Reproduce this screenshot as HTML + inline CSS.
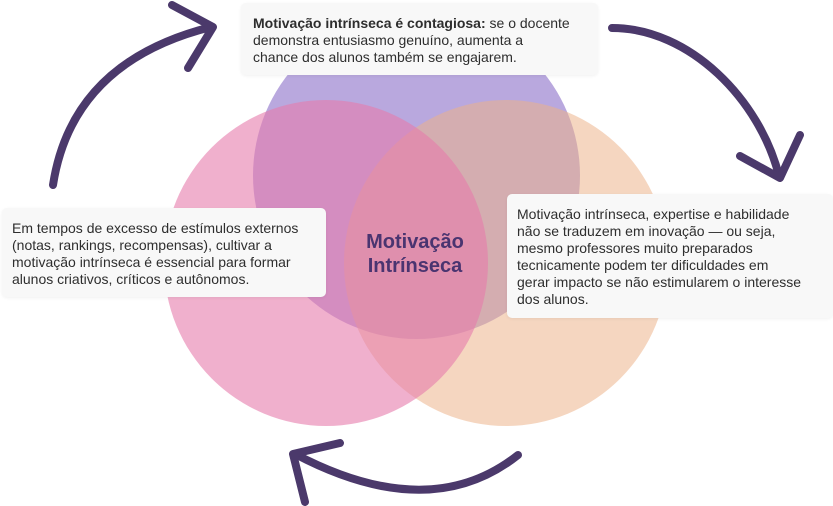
<!DOCTYPE html>
<html><head><meta charset="utf-8"><style>
html,body{margin:0;padding:0;background:#fff;}
body{width:833px;height:506px;position:relative;overflow:hidden;font-family:"Liberation Sans",sans-serif;}
.c{position:absolute;border-radius:50%;}
.box{position:absolute;background:#f8f8f8;border-radius:5px;box-shadow:0 1px 3px rgba(0,0,0,0.06);color:#2e2e2e;font-size:14px;line-height:17px;box-sizing:border-box;white-space:nowrap;}
</style></head><body>
<div class="c" style="left:253px;top:12px;width:327px;height:327px;background:#b9a8de;"></div>
<div class="c" style="left:344px;top:100px;width:324px;height:326px;background:rgb(236,178,136);opacity:0.53"></div>
<div class="c" style="left:164px;top:100px;width:324px;height:326px;background:rgb(230,123,172);opacity:0.6"></div>
<div style="position:absolute;left:315px;top:230px;width:200px;text-align:center;color:#4a3470;font-weight:bold;font-size:20px;line-height:24px;">Motivação<br>Intrínseca</div>
<svg width="833" height="506" style="position:absolute;left:0;top:0" fill="none" stroke="#4b396b" stroke-width="8" stroke-linecap="round" stroke-linejoin="round">
<path d="M53,185 Q72,62 211,27"/>
<path d="M172,5 L213,27 L188,68"/>
<path d="M612,28 C690,28 760,100 779,176"/>
<path d="M740,156 L780,178 L800,135"/>
<path d="M518,455 Q430,525 295,454"/>
<path d="M340,443 L293,454 L305,502"/>
</svg>
<div class="box" style="left:241px;top:3px;width:357px;height:72px;padding:12px 12px;"><b>Motivação intrínseca é contagiosa:</b> se o docente<br>demonstra entusiasmo genuíno, aumenta a<br>chance dos alunos também se engajarem.</div>
<div class="box" style="left:2px;top:208px;width:324px;height:89px;padding:12px 10px;">Em tempos de excesso de estímulos externos<br>(notas, rankings, recompensas), cultivar a<br>motivação intrínseca é essencial para formar<br>alunos criativos, críticos e autônomos.</div>
<div class="box" style="left:507px;top:194px;width:326px;height:124px;padding:12px 10px;">Motivação intrínseca, expertise e habilidade<br>não se traduzem em inovação — ou seja,<br>mesmo professores muito preparados<br>tecnicamente podem ter dificuldades em<br>gerar impacto se não estimularem o interesse<br>dos alunos.</div>
</body></html>
